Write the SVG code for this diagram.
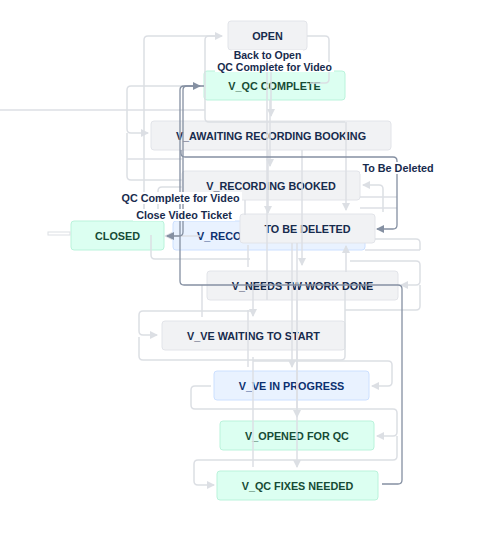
<svg xmlns="http://www.w3.org/2000/svg" width="477" height="535" viewBox="0 0 477 535">
<defs>
<style>
.n rect{stroke-width:1}
.g rect{fill:#f1f2f4;stroke:#e2e4e9}
.gr rect{fill:#dcfff1;stroke:#baf3db}
.bl rect{fill:#e9f2ff;stroke:#cce0ff}
.n text{font-family:"Liberation Sans",Arial,sans-serif;font-weight:bold;font-size:10.8px;text-anchor:middle}
.g text{fill:#172b4d}
.gr text{fill:#164b35}
.bl text{fill:#0c3070}
.l{fill:none;stroke:#dcdfe4;stroke-width:1.5}
.d{fill:none;stroke:#8590a2;stroke-width:1.3}
.la{marker-end:url(#al)}
.da{marker-end:url(#ad)}
.lb rect{fill:#ffffff}
.lb text{font-family:"Liberation Sans",Arial,sans-serif;font-weight:bold;font-size:10.8px;fill:#172b4d;text-anchor:middle}
.lb .s{font-size:10.5px}
</style>
<marker id="al" viewBox="0 0 8 8" refX="7" refY="4" markerWidth="8" markerHeight="8" markerUnits="userSpaceOnUse" orient="auto"><path d="M0,0 L8,4 L0,8 z" fill="#dcdfe4"/></marker>
<marker id="ad" viewBox="0 0 8 8" refX="7" refY="4" markerWidth="8" markerHeight="8" markerUnits="userSpaceOnUse" orient="auto"><path d="M0,0 L8,4 L0,8 z" fill="#8590a2"/></marker>
</defs>
<rect width="477" height="535" fill="#ffffff"/>

<g id="nodes">
<g id="n-open" class="n g"><rect x="228" y="21" width="79" height="29" rx="3"/><text x="267.5" y="40">OPEN</text></g>
<g id="n-qc-complete" class="n gr"><rect x="204" y="71" width="141" height="29" rx="3"/><text x="274.5" y="90">V_QC COMPLETE</text></g>
<g id="n-awaiting" class="n g"><rect x="151" y="121" width="240" height="29" rx="3"/><text x="271" y="140">V_AWAITING RECORDING BOOKING</text></g>
<g id="n-rec-booked" class="n g"><rect x="182" y="171" width="178" height="29" rx="3"/><text x="271" y="190">V_RECORDING BOOKED</text></g>
<g id="n-closed" class="n gr"><rect x="71" y="221" width="93" height="29" rx="3"/><text x="117.5" y="240">CLOSED</text></g>
<g id="n-reco" class="n bl"><rect x="173" y="221" width="192" height="29" rx="3"/><text x="197" y="240" style="text-anchor:start">V_RECO</text></g>
<g id="n-to-be-deleted" class="n g"><rect x="240" y="214" width="135" height="29" rx="3"/><text x="307.5" y="233">TO BE DELETED</text></g>
<g id="n-needs-tw" class="n g"><rect x="207" y="271" width="191" height="29" rx="3"/><text x="302.5" y="290">V_NEEDS TW WORK DONE</text></g>
<g id="n-ve-waiting" class="n g"><rect x="162" y="321" width="183" height="29" rx="3"/><text x="253.5" y="340">V_VE WAITING TO START</text></g>
<g id="n-ve-progress" class="n bl"><rect x="214" y="371" width="155" height="29" rx="3"/><text x="291.5" y="390">V_VE IN PROGRESS</text></g>
<g id="n-opened-qc" class="n gr"><rect x="220" y="421" width="154" height="29" rx="3"/><text x="297" y="440">V_OPENED FOR QC</text></g>
<g id="n-qc-fixes" class="n gr"><rect x="217" y="471" width="161" height="29" rx="3"/><text x="297.5" y="490">V_QC FIXES NEEDED</text></g>
</g>

<g id="connectors">
<path class="l" d="M0,110 H205"/>
<rect x="48" y="232" width="22" height="3" fill="none" stroke="#dcdfe4" stroke-width="1"/>
<path class="l la" d="M144,219 V40 Q144,36 148,36 H222"/>
<path class="l" d="M345,122 H209 Q205,122 205,118 V40 Q205,36 209,36 H220"/>
<path class="l" d="M307,36 H325 Q329,36 329,40 V79 Q329,83 325,83 H310"/>
<path class="l la" d="M144,196 V217"/>
<path class="l la" d="M267,300 V53"/>
<path class="l la" d="M271,50 V116"/>
<path class="l la" d="M270,100 V166"/>
<path class="l la" d="M268,150 V213"/>
<path class="l la" d="M204,86 H131 Q127,86 127,90 V129 Q127,133 131,133 H148"/>
<path class="l" d="M127,133 V176 Q127,180 131,180 H182"/>
<path class="l" d="M127,159 H182"/>
<path class="l" d="M158,215 V191 Q158,187 162,187 H182"/>
<path class="l la" d="M200,236 H165"/>
<path class="l" d="M151,235 V255 Q151,259 155,259 H250"/>
<path class="l la" d="M346,122 V210"/>
<path class="l la" d="M302,150 V265"/>
<path class="l la" d="M346,272 V246"/>
<path class="l" d="M248,245 V267"/>
<path class="l" d="M245,200 V215"/>
<path class="l la" d="M383,212 V189 Q383,185 379,185 H363"/>
<path class="l" d="M360,197 H397"/>
<path class="l" d="M360,208 H397"/>
<path class="l" d="M375,239 H416 Q420,239 420,243 V250"/>
<path class="l" d="M365,250 H420"/>
<path class="l la" d="M350,261 H416 Q420,261 420,265 V281 Q420,285 416,285 H401"/>
<path class="l" d="M420,285 V306 Q420,310 416,310 H345"/>
<path class="l" d="M202,285 V317"/>
<path class="l la" d="M292,243 V367"/>
<path class="l la" d="M297,243 V417"/>
<path class="l la" d="M297,300 V467"/>
<path class="l la" d="M253,290 V316"/>
<path class="l" d="M248,310 V367"/>
<path class="l" d="M253,357 V467"/>
<path class="l la" d="M253,311 H143 Q139,311 139,315 V331 Q139,335 143,335 H157"/>
<path class="l" d="M345,290 V356 Q345,360 341,360 H143 Q139,360 139,356 V337"/>
<path class="l la" d="M253,361 H388 Q392,361 392,365 V382 Q392,386 388,386 H372"/>
<path class="l la" d="M211,386 H195 Q191,386 191,390 V405 Q191,409 195,409 H393 Q397,409 397,413 V432 Q397,436 393,436 H377"/>
<path class="l la" d="M397,436 V456 Q397,460 393,460 H198 Q194,460 194,464 V481 Q194,485 198,485 H214"/>
<path class="d da" d="M204,86 H187 Q183,86 183,90 V232 Q183,236 179,236 H167"/>
<path class="d da" d="M382,484 H398 Q402,484 402,480 V289 Q402,285 398,285 H184 Q180,285 180,281 V90 Q180,86 184,86 H200"/>
<path class="d da" d="M181,150 V153 Q181,157 185,157 H393 Q397,157 397,161 V225 Q397,229 393,229 H377"/>
</g>

<g id="labels">
<g class="lb"><rect x="215" y="62" width="119" height="10"/><text class="s" x="274.5" y="71">QC Complete for Video</text></g>
<g class="lb"><rect x="232" y="50" width="71" height="11"/><text class="s" x="267.5" y="59">Back to Open</text></g>
<g class="lb"><rect x="360" y="162" width="76" height="12"/><text x="398" y="172">To Be Deleted</text></g>
<g class="lb"><rect x="119" y="192" width="123" height="12"/><text x="180.5" y="202">QC Complete for Video</text></g>
<g class="lb"><rect x="133" y="209" width="102" height="12"/><text x="184" y="219">Close Video Ticket</text></g>
</g>
</svg>
